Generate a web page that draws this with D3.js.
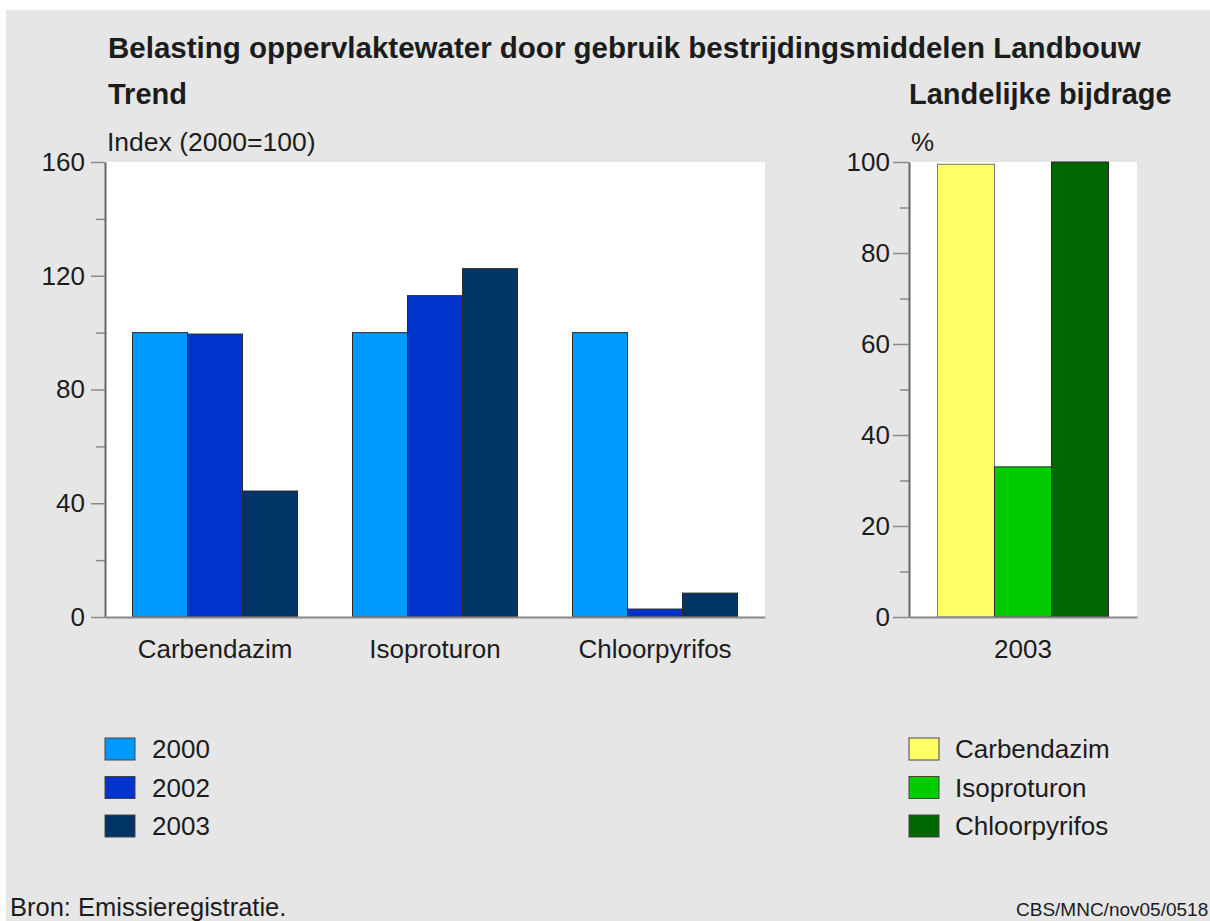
<!DOCTYPE html>
<html>
<head>
<meta charset="utf-8">
<script src="https://cdn.jsdelivr.net/npm/d3@7"></script>
<style>
	body { margin: 0; background: #ffffff; }
	svg { display: block; }
	text { font-family: "Liberation Sans", Arial, sans-serif; fill: #1c1c1c; }
</style>
</head>
<body>
<script>
// trend (index 2000=100)
const trendCategories = ['Carbendazim', 'Isoproturon', 'Chloorpyrifos'];
const trendYears = ['2000', '2002', '2003'];
const trend2000 = [100, 100, 100];
const trend2002 = [99.5, 113, 2.8];
const trend2003 = [44.3, 122.5, 8.4];
const trendTicks = [0, 40, 80, 120, 160];

// landelijke bijdrage (%)
const shareYears = ['2003'];
const shareCategories = ['Carbendazim', 'Isoproturon', 'Chloorpyrifos'];
const shareValues = [99.5, 33, 100];
const shareTicks = [0, 20, 40, 60, 80, 100];

const trendColors = ['#0099ff', '#0033cc', '#003366'];
const shareColors = ['#ffff66', '#00cc00', '#006600'];

let svg;
let w = 1210, h = 921;

window.onload = function () {
	svg = d3.select('body').append('svg')
		.attr('width', w)
		.attr('height', h);

	// grey panel
	svg.append('rect')
		.attr('x', 6).attr('y', 10)
		.attr('width', w - 6).attr('height', h - 10)
		.attr('fill', '#e6e6e6');

	makeTitles();
	makeTrend();
	makeShare();
}

function makeTitles() {
	svg.append('text')
		.attr('x', 108).attr('y', 58)
		.attr('font-size', 29.5).attr('font-weight', 'bold')
		.text('Belasting oppervlaktewater door gebruik bestrijdingsmiddelen Landbouw');

	svg.append('text')
		.attr('x', 108).attr('y', 104)
		.attr('font-size', 29).attr('font-weight', 'bold')
		.text('Trend');

	svg.append('text')
		.attr('x', 909).attr('y', 104)
		.attr('font-size', 29).attr('font-weight', 'bold')
		.text('Landelijke bijdrage');

	svg.append('text')
		.attr('x', 107).attr('y', 151)
		.attr('font-size', 26.5)
		.text('Index (2000=100)');

	svg.append('text')
		.attr('x', 911).attr('y', 151)
		.attr('font-size', 26)
		.text('%');

	svg.append('text')
		.attr('x', 10).attr('y', 916)
		.attr('font-size', 25.5)
		.text('Bron: Emissieregistratie.');

	svg.append('text')
		.attr('x', 1016).attr('y', 916)
		.attr('font-size', 19)
		.text('CBS/MNC/nov05/0518');
}

// styles a called axis group
function styleAxis(g, size) {
	g.attr('font-size', size).attr('font-family', null);
	g.selectAll('.tick line').attr('stroke', '#8a8a8a').attr('stroke-width', 1.5);
	g.selectAll('.domain').attr('stroke', '#8a8a8a').attr('stroke-width', 2);
	g.selectAll('text').attr('fill', '#1c1c1c');
}

function makeTrend() {
	let left = 105, right = 765, top = 162, bottom = 617;

	let xScale = d3.scaleBand()
		.domain(trendCategories)
		.range([left, right])
		.paddingInner(0.25)
		.paddingOuter(0.125);

	let xInner = d3.scaleBand()
		.domain(trendYears)
		.range([0, xScale.bandwidth()]);

	let yScale = d3.scaleLinear()
		.domain([0, 160])
		.range([bottom, top]);

	svg.append('rect')
		.attr('x', left).attr('y', top)
		.attr('width', right - left).attr('height', bottom - top)
		.attr('fill', '#ffffff');

	let series = [trend2000, trend2002, trend2003];

	trendYears.forEach((year, i) => {
		svg.append('g').selectAll('rect')
			.data(series[i])
			.enter()
			.append('rect')
			.attr('x', (d, j) => xScale(trendCategories[j]) + xInner(year))
			.attr('y', d => yScale(d))
			.attr('width', xInner.bandwidth())
			.attr('height', d => yScale(0) - yScale(d))
			.attr('fill', trendColors[i])
			.attr('stroke', '#2a2a2a')
			.attr('stroke-width', 1);
	});

	// minor ticks
	let minor = d3.range(20, 160, 40);
	svg.append('g')
		.attr('transform', `translate(${left},0)`)
		.call(d3.axisLeft(yScale).tickValues(minor).tickSize(9).tickFormat(''))
		.call(g => styleAxis(g, 26))
		.call(g => g.select('.domain').remove());

	let yAxisGroup = svg.append('g')
		.attr('transform', `translate(${left},0)`)
		.call(d3.axisLeft(yScale).tickValues(trendTicks).tickSize(14).tickPadding(6).tickSizeOuter(0))
		.call(g => styleAxis(g, 26));
	yAxisGroup.select('.domain').attr('stroke', '#666');

	svg.append('g')
		.attr('transform', `translate(0,${bottom})`)
		.call(d3.axisBottom(xScale).tickSize(0).tickPadding(23).tickSizeOuter(0))
		.call(g => styleAxis(g, 26));

	// legend
	let legend = svg.append('g').selectAll('g')
		.data(trendYears)
		.enter()
		.append('g')
		.attr('transform', (d, i) => `translate(105,${738 + i * 38.5})`);

	legend.append('rect')
		.attr('width', 30).attr('height', 22)
		.attr('fill', (d, i) => trendColors[i])
		.attr('stroke', '#444').attr('stroke-width', 1);

	legend.append('text')
		.attr('x', 47).attr('y', 20)
		.attr('font-size', 26)
		.text(d => d);
}

function makeShare() {
	let left = 909, right = 1137, top = 162, bottom = 617;

	let xScale = d3.scaleBand()
		.domain(shareYears)
		.range([left, right])
		.paddingOuter(0.1667);

	let xInner = d3.scaleBand()
		.domain(shareCategories)
		.range([0, xScale.bandwidth()]);

	let yScale = d3.scaleLinear()
		.domain([0, 100])
		.range([bottom, top]);

	svg.append('rect')
		.attr('x', left).attr('y', top)
		.attr('width', right - left).attr('height', bottom - top)
		.attr('fill', '#ffffff');

	svg.append('g').selectAll('rect')
		.data(shareValues)
		.enter()
		.append('rect')
		.attr('x', (d, i) => xScale(shareYears[0]) + xInner(shareCategories[i]))
		.attr('y', d => yScale(d))
		.attr('width', xInner.bandwidth())
		.attr('height', d => yScale(0) - yScale(d))
		.attr('fill', (d, i) => shareColors[i])
		.attr('stroke', (d, i) => i == 0 ? '#777' : '#2a2a2a')
		.attr('stroke-width', 1);

	let minor = d3.range(10, 100, 20);
	svg.append('g')
		.attr('transform', `translate(${left},0)`)
		.call(d3.axisLeft(yScale).tickValues(minor).tickSize(9).tickFormat(''))
		.call(g => styleAxis(g, 26))
		.call(g => g.select('.domain').remove());

	let yAxisGroup = svg.append('g')
		.attr('transform', `translate(${left},0)`)
		.call(d3.axisLeft(yScale).tickValues(shareTicks).tickSize(16).tickPadding(3).tickSizeOuter(0))
		.call(g => styleAxis(g, 26));
	yAxisGroup.select('.domain').attr('stroke', '#666');

	svg.append('g')
		.attr('transform', `translate(0,${bottom})`)
		.call(d3.axisBottom(xScale).tickSize(0).tickPadding(23).tickSizeOuter(0))
		.call(g => styleAxis(g, 26));

	let legend = svg.append('g').selectAll('g')
		.data(shareCategories)
		.enter()
		.append('g')
		.attr('transform', (d, i) => `translate(909,${738 + i * 38.5})`);

	legend.append('rect')
		.attr('width', 30).attr('height', 22)
		.attr('fill', (d, i) => shareColors[i])
		.attr('stroke', '#444').attr('stroke-width', 1);

	legend.append('text')
		.attr('x', 46).attr('y', 20)
		.attr('font-size', 26)
		.text(d => d);
}
</script>
</body>
</html>
